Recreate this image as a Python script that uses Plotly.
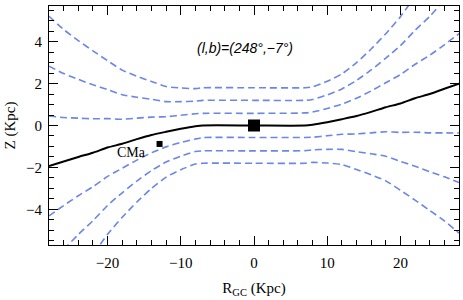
import plotly.graph_objects as go

# Galactocentric distance grid (kpc)
r_gc = [-28, -26, -24, -22, -20, -18, -16, -14, -12, -10, -8, -7, 0,
        7, 8, 10, 12, 14, 16, 18, 20, 22, 24, 26, 28]

# warped mid-plane (solid black)
z_warp = [-1.93, -1.72, -1.50, -1.30, -1.05, -0.87, -0.65, -0.45, -0.30, -0.16, -0.04, 0.0, 0.0,
          0.0, 0.04, 0.16, 0.30, 0.45, 0.65, 0.87, 1.05, 1.30, 1.50, 1.75, 2.00]

# dashed envelopes (blue), top to bottom
z_up3 = [5.21, 4.58, 4.05, 3.56, 3.09, 2.64, 2.35, 2.10, 1.86, 1.79, 1.76, 1.80, 1.80,
         1.80, 1.84, 2.11, 2.46, 3.00, 3.65, 4.38, 5.19, 6.16, 7.05, 8.05, 9.14]
z_up2 = [2.83, 2.48, 2.20, 1.94, 1.71, 1.47, 1.35, 1.25, 1.14, 1.14, 1.16, 1.20, 1.20,
         1.20, 1.24, 1.46, 1.74, 2.15, 2.65, 3.21, 3.81, 4.54, 5.20, 6.00, 6.76]
z_up1 = [0.45, 0.38, 0.35, 0.32, 0.33, 0.30, 0.35, 0.40, 0.42, 0.49, 0.56, 0.58, 0.58,
         0.60, 0.64, 0.81, 1.02, 1.30, 1.65, 2.04, 2.43, 2.92, 3.35, 3.85, 4.38]
z_lo1 = [-4.31, -3.82, -3.35, -2.92, -2.43, -2.04, -1.65, -1.30, -1.02, -0.81, -0.64, -0.58, -0.57,
         -0.57, -0.56, -0.49, -0.42, -0.40, -0.35, -0.30, -0.33, -0.32, -0.35, -0.35, -0.36]
z_lo2 = [-6.69, -5.92, -5.20, -4.54, -3.81, -3.21, -2.65, -2.15, -1.74, -1.46, -1.24, -1.21, -1.21,
         -1.20, -1.16, -1.14, -1.14, -1.25, -1.35, -1.47, -1.71, -1.94, -2.20, -2.45, -2.72]
z_lo3 = [-9.07, -8.02, -7.05, -6.16, -5.19, -4.38, -3.65, -3.00, -2.46, -2.11, -1.84, -1.80, -1.80,
         -1.80, -1.76, -1.79, -1.86, -2.10, -2.35, -2.64, -3.09, -3.56, -4.05, -4.55, -5.13]

sun_r, sun_z = [0.0], [0.0]
cma_r, cma_z = [-12.9], [-0.88]
cma_label = "CMa"
cma_label_pos = (-16.7, -1.28)
title_text = "<i>(l,b)=(248°,−7°)</i>"
title_pos = (-1.2, 3.72)

x_ticks = [-20, -10, 0, 10, 20]
y_ticks = [-4, -2, 0, 2, 4]

blue = "#6b86e6"
fig = go.Figure()
for zz in [z_up3, z_up2, z_up1, z_lo1, z_lo2, z_lo3]:
    fig.add_trace(go.Scatter(x=r_gc, y=zz, mode="lines",
                             line=dict(color=blue, width=1.6, dash="7px,4px", shape="spline", smoothing=0.6),
                             showlegend=False, hoverinfo="skip"))
fig.add_trace(go.Scatter(x=r_gc, y=z_warp, mode="lines",
                         line=dict(color="black", width=2, shape="spline", smoothing=0.6),
                         showlegend=False))
fig.add_trace(go.Scatter(x=sun_r, y=sun_z, mode="markers",
                         marker=dict(symbol="square", size=12, color="black"), showlegend=False))
fig.add_trace(go.Scatter(x=cma_r, y=cma_z, mode="markers",
                         marker=dict(symbol="square", size=6, color="black"), showlegend=False))

fig.add_annotation(x=cma_label_pos[0], y=cma_label_pos[1], text=cma_label, showarrow=False,
                   font=dict(family="Liberation Serif", size=14, color="black"))
fig.add_annotation(x=title_pos[0], y=title_pos[1], text=title_text, showarrow=False,
                   font=dict(family="Liberation Sans", size=14, color="black"))

axis_common = dict(showgrid=False, zeroline=False, showline=True, linecolor="black", linewidth=1,
                   mirror="ticks", ticks="inside", ticklen=9, tickwidth=1, tickcolor="black",
                   automargin=False,
                   tickfont=dict(family="Liberation Serif", size=15, color="black"))
fig.update_xaxes(range=[-28, 28], tickvals=x_ticks, ticklabelstandoff=4,
                 minor=dict(dtick=2, ticks="inside", ticklen=5, tickcolor="black"),
                 title=dict(text="R<sub>GC</sub> (Kpc)",
                            font=dict(family="Liberation Serif", size=15, color="black"), standoff=12),
                 **axis_common)
fig.update_yaxes(range=[-5.7, 5.7], tickvals=y_ticks, ticklabelstandoff=3,
                 minor=dict(dtick=0.5, ticks="inside", ticklen=5, tickcolor="black"),
                 title=dict(text="Z (Kpc)",
                            font=dict(family="Liberation Serif", size=15, color="black"), standoff=6),
                 **axis_common)
fig.update_layout(width=463, height=300, margin=dict(l=49, r=4, t=6, b=55),
                  plot_bgcolor="white", paper_bgcolor="white")
fig.write_html("out.html", config={"displayModeBar": False},
               post_script="document.body.style.margin='0';document.body.style.overflow='hidden';")
